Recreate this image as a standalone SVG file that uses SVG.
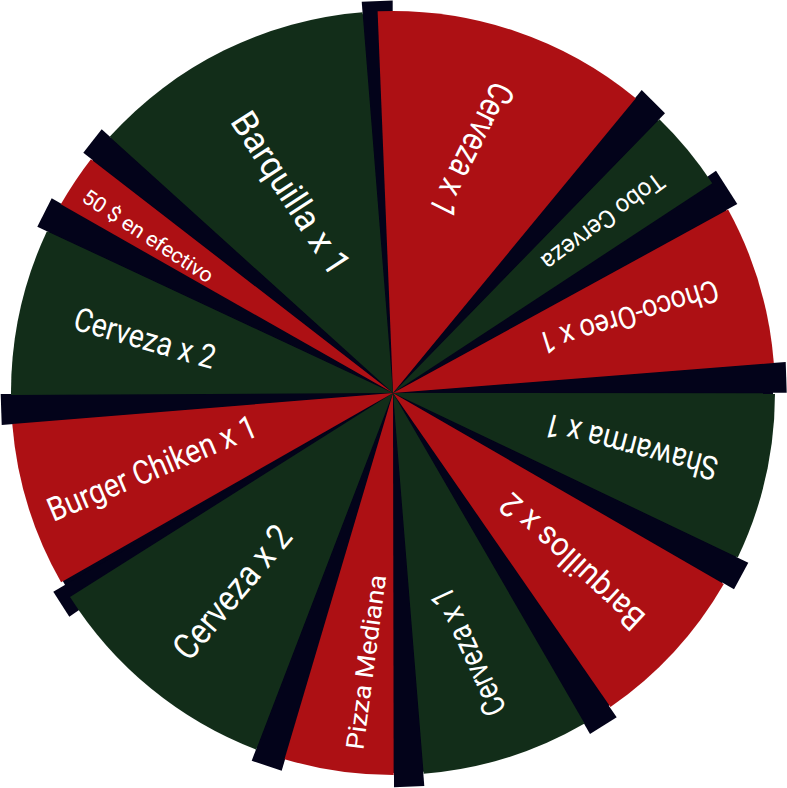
<svg xmlns="http://www.w3.org/2000/svg" width="787" height="788" viewBox="0 0 787 788">
<style>
.r{fill:#ad1014}
.g{fill:#122d19}
.d{fill:#03031a}
text{fill:#ffffff;font-family:Roboto,"Liberation Sans",sans-serif;text-anchor:middle}
</style>
<rect width="787" height="788" fill="#ffffff"/>
<g id="dividers" class="d">
<circle cx="393" cy="393" r="380"/>
<polygon points="393,393 361.7,1.7 392.7,0.5"/>
<polygon points="393,393 641.7,90 665,113.3"/>
<polygon points="393,393 716,170.7 737.3,204"/>
<polygon points="393,393 785.7,362 786.7,392.7"/>
<polygon points="393,393 748.3,562.7 734,589.3"/>
<polygon points="393,393 616.7,717.3 590,734"/>
<polygon points="393,393 424.3,786 394,787.3"/>
<polygon points="393,393 281.7,770.7 251.7,760.7"/>
<polygon points="393,393 69.3,616.7 53.3,591.7"/>
<polygon points="393,393 1.7,425 0.7,394"/>
<polygon points="393,393 37.3,226.7 51.7,198.3"/>
<polygon points="393,393 83.3,152.7 101.7,129.3"/>
</g>
<g id="s1"><path class="r" d="M393,393 L377.6,11.31 A382,382 0 0 1 635.8,98.2 Z"/>
<text transform="translate(472,150) rotate(116.6)" font-size="36" dy="0.35em" textLength="145" lengthAdjust="spacingAndGlyphs">Cerveza x 1</text></g>
<g id="s2"><path class="g" d="M393,393 L659.4,119.22 A382,382 0 0 1 712.28,183.27 Z"/>
<text transform="translate(603,222) rotate(143.5)" font-size="25" dy="0.35em" textLength="146" lengthAdjust="spacingAndGlyphs">Tobo Cerveza</text></g>
<g id="s3"><path class="r" d="M393,393 L728.07,209.56 A382,382 0 0 1 773.82,363.03 Z"/>
<text transform="translate(629,317) rotate(162.8)" font-size="31" dy="0.35em" textLength="186" lengthAdjust="spacingAndGlyphs">Choco-Oreo x 1</text></g>
<g id="s4"><path class="g" d="M393,393 L775,393.33 A382,382 0 0 1 737.79,557.45 Z"/>
<text transform="translate(631,447) rotate(194.7)" font-size="33" dy="0.35em" textLength="178" lengthAdjust="spacingAndGlyphs">Shawarma x 1</text></g>
<g id="s5"><path class="r" d="M393,393 L723.82,584 A382,382 0 0 1 610.47,707.06 Z"/>
<text transform="translate(572,562) rotate(222.8)" font-size="33" dy="0.35em" textLength="184" lengthAdjust="spacingAndGlyphs">Barquillos x 2</text></g>
<g id="s6"><path class="g" d="M393,393 L584.58,723.49 A382,382 0 0 1 423.64,773.77 Z"/>
<text transform="translate(468,652) rotate(245.5)" font-size="33" dy="0.35em" textLength="137" lengthAdjust="spacingAndGlyphs">Cerveza x 1</text></g>
<g id="s7"><path class="r" d="M393,393 L393.67,775 A382,382 0 0 1 284.5,759.27 Z"/>
<text transform="translate(366,662) rotate(-82.5)" font-size="25" dy="0.35em" textLength="176" lengthAdjust="spacingAndGlyphs">Pizza Mediana</text></g>
<g id="s8"><path class="g" d="M393,393 L256.1,749.63 A382,382 0 0 1 70.03,597.03 Z"/>
<text transform="translate(232,592) rotate(-50)" font-size="36" dy="0.35em" textLength="163" lengthAdjust="spacingAndGlyphs">Cerveza x 2</text></g>
<g id="s9"><path class="r" d="M393,393 L61.1,582.3 A382,382 0 0 1 12.26,423.97 Z"/>
<text transform="translate(152,468) rotate(-22.8)" font-size="33" dy="0.35em" textLength="224" lengthAdjust="spacingAndGlyphs">Burger Chiken x 1</text></g>
<g id="s10"><path class="g" d="M393,393 L11,395 A382,382 0 0 1 46.92,231.16 Z"/>
<text transform="translate(145,338) rotate(16)" font-size="33" dy="0.35em" textLength="146" lengthAdjust="spacingAndGlyphs">Cerveza x 2</text></g>
<g id="s11"><path class="r" d="M393,393 L60.81,204.35 A382,382 0 0 1 90.96,159.13 Z"/>
<text transform="translate(148,236) rotate(33.2)" font-size="21" dy="0.35em" textLength="152" lengthAdjust="spacingAndGlyphs">50 $ en efectivo</text></g>
<g id="s12"><path class="g" d="M393,393 L109.64,136.82 A382,382 0 0 1 362.57,12.21 Z"/>
<text transform="translate(291,193) rotate(57)" font-size="36" dy="0.35em" textLength="187" lengthAdjust="spacingAndGlyphs">Barquilla x 1</text></g>
</svg>
